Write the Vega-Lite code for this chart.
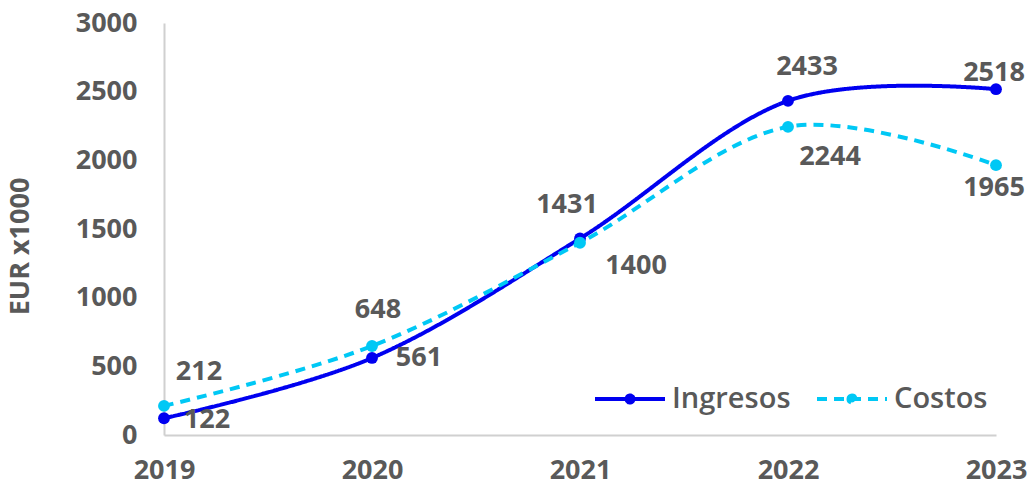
{
  "$schema": "https://vega.github.io/schema/vega-lite/v6.json",
  "width": 832,
  "height": 412,
  "autosize": "none",
  "padding": {"left": 164, "top": 23, "right": 39, "bottom": 51},
  "background": "white",
  "config": {"view": {"stroke": null}, "font": "Open Sans"},
  "data": {"values": [
    {"year": 2019, "serie": "Ingresos", "value": 122},
    {"year": 2020, "serie": "Ingresos", "value": 561},
    {"year": 2021, "serie": "Ingresos", "value": 1431},
    {"year": 2022, "serie": "Ingresos", "value": 2433},
    {"year": 2023, "serie": "Ingresos", "value": 2518},
    {"year": 2019, "serie": "Costos", "value": 212},
    {"year": 2020, "serie": "Costos", "value": 648},
    {"year": 2021, "serie": "Costos", "value": 1400},
    {"year": 2022, "serie": "Costos", "value": 2244},
    {"year": 2023, "serie": "Costos", "value": 1965}
  ]},
  "encoding": {
    "x": {"field": "year", "type": "quantitative", "scale": {"domain": [2019, 2023], "nice": false, "zero": false},
      "axis": {"title": null, "values": [2019, 2020, 2021, 2022, 2023], "format": "d", "grid": false, "ticks": false,
        "domainColor": "#d0d0d0", "domainWidth": 2, "labelFont": "Open Sans", "labelFontWeight": "bold", "labelFontSize": 27,
        "labelColor": "#595959", "labelPadding": 22, "labelBaseline": "top", "labelOverlap": false, "labelFlush": false}},
    "y": {"field": "value", "type": "quantitative", "scale": {"domain": [0, 3000], "nice": false},
      "axis": {"title": "EUR x1000", "values": [0, 500, 1000, 1500, 2000, 2500, 3000], "format": "d", "grid": false, "ticks": false,
        "domainColor": "#d0d0d0", "domainWidth": 2, "labelFont": "Open Sans", "labelFontWeight": "bold", "labelFontSize": 27,
        "labelColor": "#595959", "labelPadding": 27, "labelBaseline": "middle",
        "titleFont": "Open Sans", "titleFontWeight": "bold", "titleFontSize": 27, "titleColor": "#595959",
        "titleX": -144, "titleY": 223, "titleAngle": 270, "titleAlign": "center", "titleBaseline": "middle"}}
  },
  "layer": [
    {
      "mark": {"type": "line", "interpolate": "cardinal", "strokeWidth": 4},
      "encoding": {
        "color": {"field": "serie", "type": "nominal", "scale": {"domain": ["Ingresos", "Costos"], "range": ["#0000f0", "#00c8f5"]},
          "legend": {"title": null, "orient": "none", "legendX": 429, "legendY": 339, "direction": "horizontal",
            "symbolType": "M-1,0L1,0M-0.1,0A0.1,0.1 0 1,1 0.1,0A0.1,0.1 0 1,1 -0.1,0Z",
            "symbolSize": 4900, "symbolStrokeWidth": 4, "labelOffset": 5, "columnPadding": 18, "padding": 0,
            "labelFont": "Open Sans", "labelFontSize": 29, "labelColor": "#595959", "labelFontWeight": 600,
            "labelBaseline": "middle",
            "encode": {"symbols": {"update": {"fill": {"scale": "color", "field": "value"}, "fillOpacity": {"value": 1}, "opacity": {"value": 1}}}}}},
        "strokeDash": {"field": "serie", "type": "nominal", "scale": {"domain": ["Ingresos", "Costos"], "range": [[1, 0], [10, 7]]}}
      }
    },
    {
      "mark": {"type": "point", "filled": true, "size": 140, "opacity": 1},
      "encoding": {"color": {"field": "serie", "type": "nominal", "scale": {"domain": ["Ingresos", "Costos"], "range": ["#0000f0", "#00c8f5"]}}}
    },
    {"transform": [{"filter": "datum.serie == 'Ingresos' && datum.year == 2019"}],
     "mark": {"type": "text", "dx": 43, "dy": 2, "font": "Open Sans", "fontWeight": "bold", "fontSize": 27, "color": "#595959"},
     "encoding": {"text": {"field": "value", "type": "quantitative"}}},
    {"transform": [{"filter": "datum.serie == 'Ingresos' && datum.year == 2020"}],
     "mark": {"type": "text", "dx": 47, "dy": 0, "font": "Open Sans", "fontWeight": "bold", "fontSize": 27, "color": "#595959"},
     "encoding": {"text": {"field": "value", "type": "quantitative"}}},
    {"transform": [{"filter": "datum.serie == 'Ingresos' && datum.year == 2021"}],
     "mark": {"type": "text", "dx": -13, "dy": -33, "font": "Open Sans", "fontWeight": "bold", "fontSize": 27, "color": "#595959"},
     "encoding": {"text": {"field": "value", "type": "quantitative"}}},
    {"transform": [{"filter": "datum.serie == 'Ingresos' && datum.year == 2022"}],
     "mark": {"type": "text", "dx": 19, "dy": -34, "font": "Open Sans", "fontWeight": "bold", "fontSize": 27, "color": "#595959"},
     "encoding": {"text": {"field": "value", "type": "quantitative"}}},
    {"transform": [{"filter": "datum.serie == 'Ingresos' && datum.year == 2023"}],
     "mark": {"type": "text", "dx": -2, "dy": -16, "font": "Open Sans", "fontWeight": "bold", "fontSize": 27, "color": "#595959"},
     "encoding": {"text": {"field": "value", "type": "quantitative"}}},
    {"transform": [{"filter": "datum.serie == 'Costos' && datum.year == 2019"}],
     "mark": {"type": "text", "dx": 35, "dy": -34, "font": "Open Sans", "fontWeight": "bold", "fontSize": 27, "color": "#595959"},
     "encoding": {"text": {"field": "value", "type": "quantitative"}}},
    {"transform": [{"filter": "datum.serie == 'Costos' && datum.year == 2020"}],
     "mark": {"type": "text", "dx": 6, "dy": -36, "font": "Open Sans", "fontWeight": "bold", "fontSize": 27, "color": "#595959"},
     "encoding": {"text": {"field": "value", "type": "quantitative"}}},
    {"transform": [{"filter": "datum.serie == 'Costos' && datum.year == 2021"}],
     "mark": {"type": "text", "dx": 56, "dy": 23, "font": "Open Sans", "fontWeight": "bold", "fontSize": 27, "color": "#595959"},
     "encoding": {"text": {"field": "value", "type": "quantitative"}}},
    {"transform": [{"filter": "datum.serie == 'Costos' && datum.year == 2022"}],
     "mark": {"type": "text", "dx": 42, "dy": 30, "font": "Open Sans", "fontWeight": "bold", "fontSize": 27, "color": "#595959"},
     "encoding": {"text": {"field": "value", "type": "quantitative"}}},
    {"transform": [{"filter": "datum.serie == 'Costos' && datum.year == 2023"}],
     "mark": {"type": "text", "dx": -2, "dy": 23, "font": "Open Sans", "fontWeight": "bold", "fontSize": 27, "color": "#595959"},
     "encoding": {"text": {"field": "value", "type": "quantitative"}}}
  ]
}
